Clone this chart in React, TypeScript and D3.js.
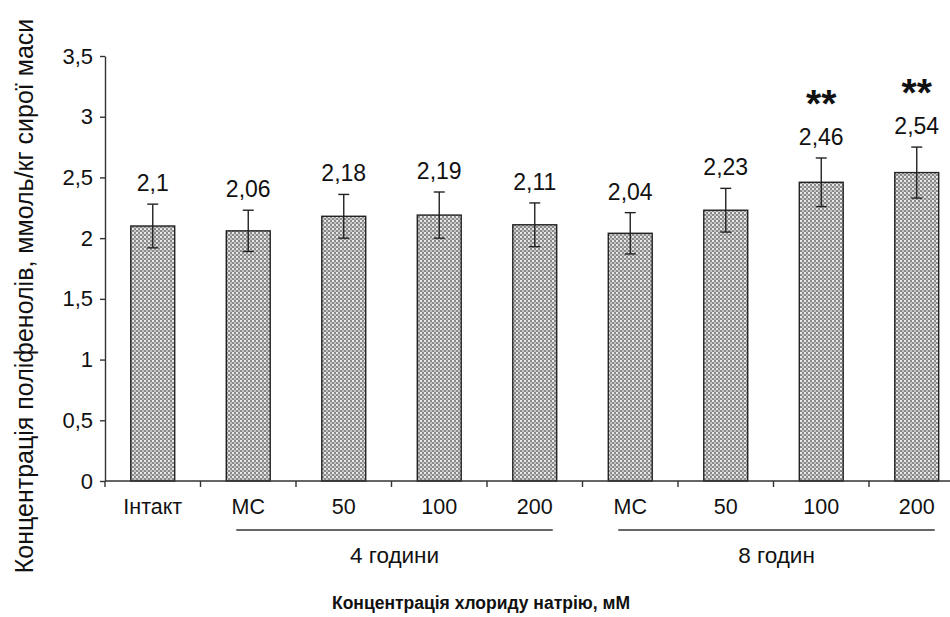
import { useEffect, useRef } from 'react'
import * as d3 from 'd3'

// categories along the x axis
const categories = ['Інтакт', 'МС', '50', '100', '200', 'МС', '50', '100', '200']
// mean polyphenol concentration
const values = [2.1, 2.06, 2.18, 2.19, 2.11, 2.04, 2.23, 2.46, 2.54]
// error bar half-width
const errors = [0.18, 0.17, 0.18, 0.19, 0.18, 0.17, 0.18, 0.2, 0.21]
const labels = ['2,1', '2,06', '2,18', '2,19', '2,11', '2,04', '2,23', '2,46', '2,54']
const marks = ['', '', '', '', '', '', '', '**', '**']
const yTicks = [0, 0.5, 1, 1.5, 2, 2.5, 3, 3.5]
// time groups: [first index, last index, label]
const groups: [number, number, string][] = [
    [1, 4, '4 години'],
    [5, 8, '8 годин'],
]

const fmt = (d: number) => String(d).replace('.', ',')

export default function App() {
    const svgRef = useRef<SVGSVGElement>(null)

    useEffect(() => {
        if (!svgRef.current) return
        const svg = d3.select(svgRef.current)
        svg.selectAll('*').remove()

        const font = 'Liberation Sans, Arial, sans-serif'
        const left = 105
        const step = 95.5
        const y0 = 481
        const yTop = 56

        const x = d3.scaleBand<number>()
            .domain(d3.range(categories.length))
            .range([left, left + step * categories.length])
            .paddingInner(0.54)
            .paddingOuter(0.27)

        const y = d3.scaleLinear().domain([0, 3.5]).range([y0, yTop])

        // dotted fill like the original
        const defs = svg.append('defs')
        const pat = defs.append('pattern')
            .attr('id', 'dots')
            .attr('patternUnits', 'userSpaceOnUse')
            .attr('width', 4)
            .attr('height', 4)
        pat.append('rect').attr('width', 4).attr('height', 4).attr('fill', '#8a8a8a')
        pat.append('rect').attr('x', 0).attr('y', 0).attr('width', 2).attr('height', 2).attr('fill', '#e8e8e8')
        pat.append('rect').attr('x', 2).attr('y', 2).attr('width', 2).attr('height', 2).attr('fill', '#c4c4c4')

        // bars
        svg.append('g')
            .selectAll('rect')
            .data(values)
            .enter()
            .append('rect')
            .attr('x', (_, i) => x(i)!)
            .attr('width', x.bandwidth())
            .attr('y', d => y(d))
            .attr('height', d => y0 - y(d))
            .attr('fill', 'url(#dots)')
            .attr('stroke', '#222')
            .attr('stroke-width', 1.4)

        // error bars
        const eb = svg.append('g').attr('stroke', '#222').attr('stroke-width', 1.4)
        values.forEach((v, i) => {
            const cx = x(i)! + x.bandwidth() / 2
            const e = errors[i]
            eb.append('line').attr('x1', cx).attr('x2', cx).attr('y1', y(v + e)).attr('y2', y(v - e))
            eb.append('line').attr('x1', cx - 5.5).attr('x2', cx + 5.5).attr('y1', y(v + e)).attr('y2', y(v + e))
            eb.append('line').attr('x1', cx - 5.5).attr('x2', cx + 5.5).attr('y1', y(v - e)).attr('y2', y(v - e))
        })

        // value labels
        svg.append('g')
            .selectAll('text')
            .data(values)
            .enter()
            .append('text')
            .attr('x', (_, i) => x(i)! + x.bandwidth() / 2)
            .attr('y', (d, i) => y(d + errors[i]) - 13)
            .attr('text-anchor', 'middle')
            .style('font-family', font)
            .style('font-size', '23px')
            .style('fill', '#111')
            .text((_, i) => labels[i])

        // significance marks
        svg.append('g')
            .selectAll('text')
            .data(values)
            .enter()
            .append('text')
            .attr('x', (_, i) => x(i)! + x.bandwidth() / 2)
            .attr('y', (d, i) => y(d + errors[i]) - 41)
            .attr('text-anchor', 'middle')
            .style('font-family', font)
            .style('font-size', '39px')
            .style('font-weight', 'bold')
            .style('fill', '#111')
            .text((_, i) => marks[i])

        // y axis
        const yAxis = svg.append('g')
            .attr('transform', `translate(${left},0)`)
            .call(d3.axisLeft(y).tickValues(yTicks).tickSize(5).tickSizeOuter(0).tickFormat(d => fmt(d as number)))
        yAxis.select('.domain').attr('stroke', '#333').attr('stroke-width', 1.4)
        yAxis.selectAll('.tick line').attr('stroke', '#333').attr('stroke-width', 1.4)
        yAxis.selectAll('.tick text')
            .attr('x', -12)
            .style('font-family', font)
            .style('font-size', '22px')
            .style('fill', '#111')

        // x axis with ticks between categories
        const xg = svg.append('g')
        xg.append('line')
            .attr('x1', left).attr('x2', left + step * categories.length)
            .attr('y1', y0).attr('y2', y0)
            .attr('stroke', '#333').attr('stroke-width', 1.4)
        d3.range(categories.length + 1).forEach(i => {
            const tx = left + step * i
            xg.append('line')
                .attr('x1', tx).attr('x2', tx)
                .attr('y1', y0).attr('y2', y0 + 6)
                .attr('stroke', '#333').attr('stroke-width', 1.4)
        })
        xg.selectAll('text.cat')
            .data(categories)
            .enter()
            .append('text')
            .attr('class', 'cat')
            .attr('x', (_, i) => x(i)! + x.bandwidth() / 2)
            .attr('y', 514)
            .attr('text-anchor', 'middle')
            .style('font-family', font)
            .style('font-size', '21.5px')
            .style('fill', '#111')
            .text(d => d)

        // group brackets
        groups.forEach(([a, b, name]) => {
            const x1 = x(a)! + x.bandwidth() / 2 - 12
            const x2 = x(b)! + x.bandwidth() / 2 + 18
            svg.append('line')
                .attr('x1', x1).attr('x2', x2)
                .attr('y1', 530).attr('y2', 530)
                .attr('stroke', '#333').attr('stroke-width', 1.4)
            svg.append('text')
                .attr('x', (x1 + x2) / 2)
                .attr('y', 563)
                .attr('text-anchor', 'middle')
                .style('font-family', font)
                .style('font-size', '22.5px')
                .style('fill', '#111')
                .text(name)
        })

        // axis titles
        svg.append('text')
            .attr('x', 481)
            .attr('y', 609)
            .attr('text-anchor', 'middle')
            .style('font-family', font)
            .style('font-size', '17.5px')
            .style('font-weight', 'bold')
            .style('fill', '#111')
            .text('Концентрація хлориду натрію, мМ')

        svg.append('text')
            .attr('transform', 'translate(33,296) rotate(-90)')
            .attr('text-anchor', 'middle')
            .style('font-family', font)
            .style('font-size', '25px')
            .style('fill', '#111')
            .text('Концентрація поліфенолів, ммоль/кг сирої маси')
    }, [])

    return (
        <svg
            ref={svgRef}
            width={950}
            height={617}
            style={{ position: 'absolute', left: 0, top: 0, background: '#fff' }}
        />
    )
}
